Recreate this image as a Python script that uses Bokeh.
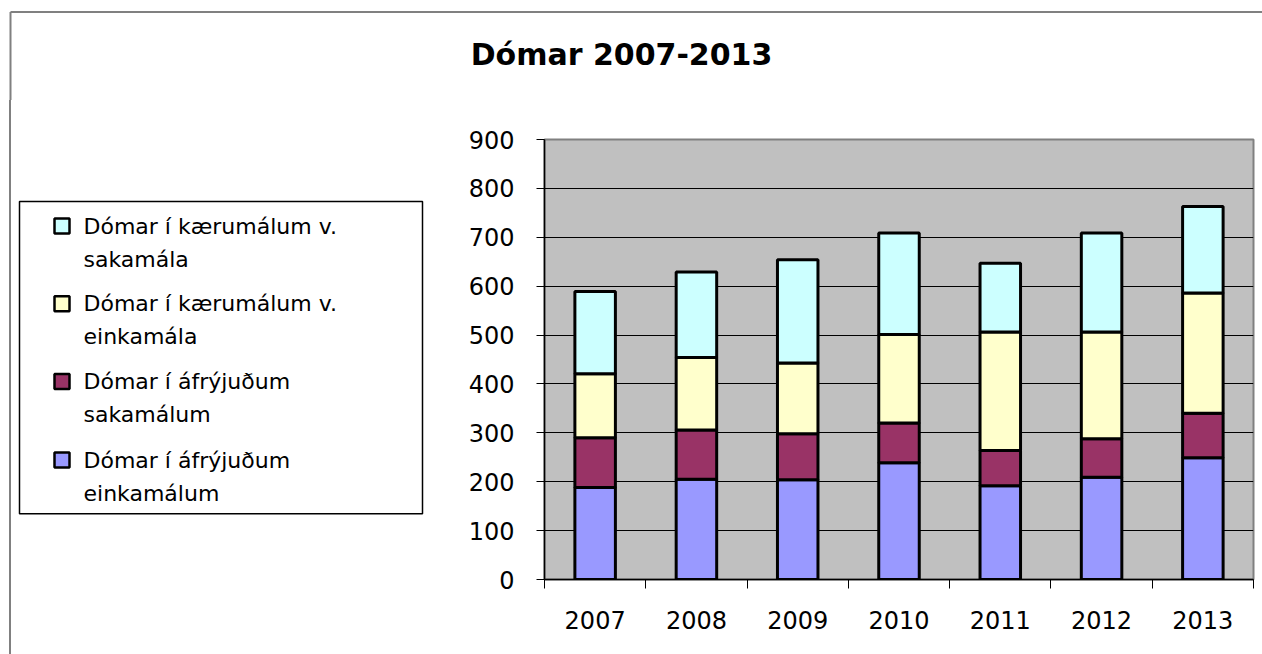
from bokeh.plotting import figure
from bokeh.layouts import column, row
from bokeh.models import Range1d, FixedTicker, ColumnDataSource, BasicTickFormatter, Div
from bokeh.core.properties import value
from bokeh.embed import file_html
from bokeh.resources import INLINE

years = ["2007", "2008", "2009", "2010", "2011", "2012", "2013"]
afryjudum_einkamalum = [188, 205, 204, 239, 192, 209, 249]
afryjudum_sakamalum = [102, 101, 94, 81, 72, 79, 91]
kaerumalum_einkamala = [131, 148, 145, 181, 242, 218, 246]
kaerumalum_sakamala = [168, 175, 211, 208, 141, 203, 177]
series_labels = [
    ["Dómar í áfrýjuðum", "einkamálum"],
    ["Dómar í áfrýjuðum", "sakamálum"],
    ["Dómar í kærumálum v.", "einkamála"],
    ["Dómar í kærumálum v.", "sakamála"],
]
series_colors = ["#9999FF", "#993366", "#FFFFCC", "#CCFFFF"]
y_ticks = [0, 100, 200, 300, 400, 500, 600, 700, 800, 900]
title_text = "Dómar 2007-2013"

FONT = "DejaVu Sans"
W, H = 1262, 654
TOP_H = 100
EDGE_W = 11
LEG_W = 454
BTOP, BBOT = 39, 75          # chart borders (frame: page y 139..579)
FRAME_TOP = TOP_H + BTOP
FRAME_BOT = H - BBOT
BORDER = "#808080"


def clean(f):
    f.grid.visible = False
    f.outline_line_color = None
    f.background_fill_alpha = 0
    f.border_fill_alpha = 0
    return f


# ---- top strip: title + chart border
top = clean(figure(width=W, height=TOP_H,
                   x_range=Range1d(0, W), y_range=Range1d(TOP_H, 0),
                   x_axis_location=None, y_axis_location=None,
                   output_backend="svg", toolbar_location=None, min_border=0))
top.segment(x0=[10, 10], y0=[11.5, 11.5], x1=[W + 5, 10], y1=[11.5, TOP_H + 5],
            line_color=BORDER, line_width=2)
top.text(x=[621], y=[54], text=[title_text], text_align="center",
         text_baseline="alphabetic", text_font=value(FONT),
         text_font_style="bold", text_font_size="30px", text_color="black")

# ---- left edge of the chart border (full height)
edge = Div(text=('<div style="position:absolute;left:9px;top:0px;width:2px;'
                 'height:%dpx;background:%s"></div>' % (H - TOP_H, BORDER)),
           width=EDGE_W, height=H - TOP_H, margin=0)

# ---- legend panel (frame aligned with chart frame)
leg = clean(figure(frame_width=LEG_W - EDGE_W, frame_height=FRAME_BOT - FRAME_TOP,
                   min_border_left=0, min_border_right=0,
                   min_border_top=BTOP, min_border_bottom=BBOT,
                   x_range=Range1d(EDGE_W, LEG_W), y_range=Range1d(FRAME_BOT, FRAME_TOP),
                   x_axis_location=None, y_axis_location=None,
                   output_backend="svg", toolbar_location=None))
leg.quad(left=[19], right=[422], top=[201], bottom=[513.3],
         fill_color="white", line_color="black", line_width=1.5)
sq_centers = [459.5, 381, 303.3, 225.5]
leg.rect(x=[61.5] * 4, y=sq_centers, width=15, height=15,
         fill_color=series_colors, line_color="black", line_width=2.5)
tx, ty, tt = [], [], []
for i in range(4):
    for j, line in enumerate(series_labels[i]):
        tx.append(83)
        ty.append(sq_centers[i] + j * 33)
        tt.append(line)
leg.text(x=tx, y=ty, text=tt, text_align="left", text_baseline="alphabetic",
         text_font=value(FONT), text_font_size="22px", text_color="black")

# ---- chart
xs = [int(y) for y in years]
source = ColumnDataSource(dict(
    x=xs,
    s1=afryjudum_einkamalum,
    s2=afryjudum_sakamalum,
    s3=kaerumalum_einkamala,
    s4=kaerumalum_sakamala,
))

p = figure(frame_width=709, frame_height=FRAME_BOT - FRAME_TOP,
           min_border_left=90, min_border_right=9,
           min_border_top=BTOP, min_border_bottom=BBOT,
           x_range=Range1d(xs[0] - 0.5, xs[-1] + 0.5),
           y_range=Range1d(y_ticks[0], y_ticks[-1]),
           output_backend="svg", toolbar_location=None)

p.background_fill_color = "#C0C0C0"
p.border_fill_alpha = 0
p.outline_line_color = BORDER
p.outline_line_width = 2

p.vbar_stack(["s1", "s2", "s3", "s4"], x="x", width=0.4, source=source,
             fill_color=series_colors, line_color="black", line_width=3)

p.xaxis.ticker = FixedTicker(ticks=xs, minor_ticks=[x - 0.5 for x in xs] + [xs[-1] + 0.5])
p.xaxis.formatter = BasicTickFormatter(use_scientific=False)
p.xaxis.major_tick_out = 0
p.xaxis.major_tick_in = 0
p.xaxis.minor_tick_out = 9
p.xaxis.minor_tick_in = 0
p.xaxis.minor_tick_line_color = "black"
p.xaxis.axis_line_color = "black"
p.xaxis.axis_line_width = 1.5
p.xaxis.major_label_standoff = 22
p.xaxis.major_label_text_font = FONT
p.xaxis.major_label_text_font_size = "24px"
p.xaxis.major_label_text_color = "black"

p.yaxis.ticker = FixedTicker(ticks=y_ticks)
p.yaxis.major_tick_out = 8
p.yaxis.major_tick_in = 0
p.yaxis.minor_tick_out = 0
p.yaxis.minor_tick_in = 0
p.yaxis.axis_line_color = "black"
p.yaxis.axis_line_width = 1.5
p.yaxis.major_tick_line_color = "black"
p.yaxis.major_label_standoff = 22
p.yaxis.major_label_text_font = FONT
p.yaxis.major_label_text_font_size = "24px"
p.yaxis.major_label_text_color = "black"

p.xgrid.visible = False
p.ygrid.ticker = FixedTicker(ticks=y_ticks)
p.ygrid.grid_line_color = "black"
p.ygrid.grid_line_width = 1

layout = column(top, row(edge, leg, p))
open("out.html", "w").write(file_html(layout, INLINE))
